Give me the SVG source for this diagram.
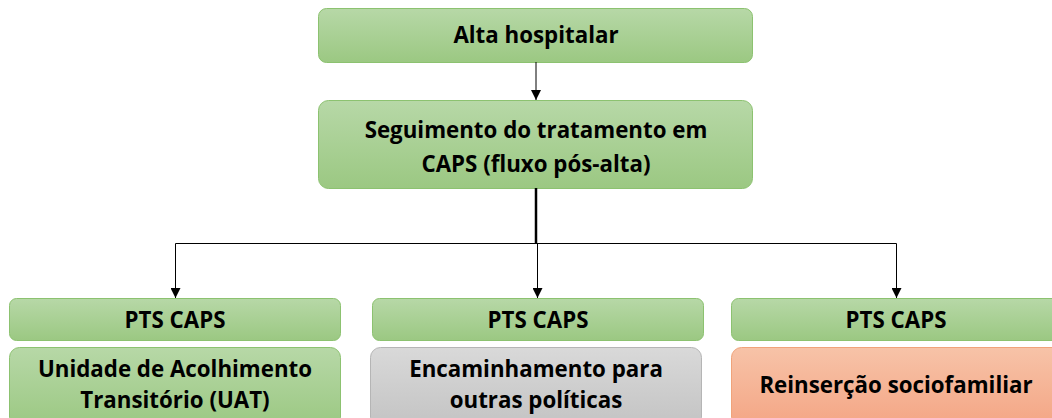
<svg xmlns="http://www.w3.org/2000/svg" width="1052" height="418" viewBox="0 0 1052 418">
<defs>
<linearGradient id="gG" x1="0" y1="0" x2="0" y2="1"><stop offset="0" stop-color="#b7d8a7"/><stop offset="1" stop-color="#9bc882"/></linearGradient>
<linearGradient id="gY" x1="0" y1="0" x2="0" y2="1"><stop offset="0" stop-color="#d9d9d9"/><stop offset="1" stop-color="#c3c3c3"/></linearGradient>
<linearGradient id="gO" x1="0" y1="0" x2="0" y2="1"><stop offset="0" stop-color="#f7c3a8"/><stop offset="1" stop-color="#f4a584"/></linearGradient>
<marker id="ah" viewBox="0 0 10 10" refX="10" refY="5" markerWidth="10" markerHeight="10" markerUnits="userSpaceOnUse" orient="auto"><path d="M0,0 L10,5 L0,10 Z" fill="#000"/></marker>
</defs>
<style>
.g{fill:url(#gG);stroke:#8cc270;stroke-width:1}
.y{fill:url(#gY);stroke:#b5b5b5;stroke-width:1}
.o{fill:url(#gO);stroke:#f0a37a;stroke-width:1}
text{font-family:"Open Sans","Liberation Sans",Arial,sans-serif;font-weight:bold;font-size:22.3px;fill:#000;text-anchor:middle}
.c{stroke:#000;fill:none;stroke-width:1}
</style>
<g id="n1"><rect class="g" x="318.5" y="8.5" width="434" height="54" rx="8"/><text x="536" y="43">Alta hospitalar</text></g>
<g id="n2"><rect class="g" x="318.5" y="100.5" width="434" height="88" rx="10"/><text x="536" y="138">Seguimento do tratamento em</text><text x="536" y="172">CAPS (fluxo pós-alta)</text></g>
<g id="p1"><rect class="g" x="9.5" y="298.5" width="331" height="42" rx="7"/><text x="175" y="328">PTS CAPS</text></g>
<g id="p2"><rect class="g" x="372.5" y="298.5" width="331" height="42" rx="7"/><text x="538" y="328">PTS CAPS</text></g>
<g id="p3"><rect class="g" x="731.5" y="298.5" width="331" height="42" rx="7"/><text x="896" y="328">PTS CAPS</text></g>
<g id="b1"><rect class="g" x="9.5" y="347.5" width="331" height="80" rx="10"/><text x="175" y="377">Unidade de Acolhimento</text><text x="175" y="408">Transitório (UAT)</text></g>
<g id="b2"><rect class="y" x="370.5" y="347.5" width="331" height="80" rx="10"/><text x="536" y="377">Encaminhamento para</text><text x="536" y="408">outras políticas</text></g>
<g id="b3"><rect class="o" x="731.5" y="347.5" width="331" height="80" rx="10"/><text x="896" y="393">Reinserção sociofamiliar</text></g>
<g id="connectors">
<line class="c" x1="536" y1="62" x2="536" y2="100" marker-end="url(#ah)"/>
<line x1="536" y1="188" x2="536" y2="243.5" stroke="#000" stroke-width="2.5"/>
<polyline class="c" points="175.5,298 175.5,243.5 896.5,243.5 896.5,298"/>
<line class="c" x1="175.5" y1="280" x2="175.5" y2="298" marker-end="url(#ah)"/>
<line class="c" x1="537.5" y1="243.5" x2="537.5" y2="298" marker-end="url(#ah)"/>
<line class="c" x1="896.5" y1="280" x2="896.5" y2="298" marker-end="url(#ah)"/>
</g>
</svg>
